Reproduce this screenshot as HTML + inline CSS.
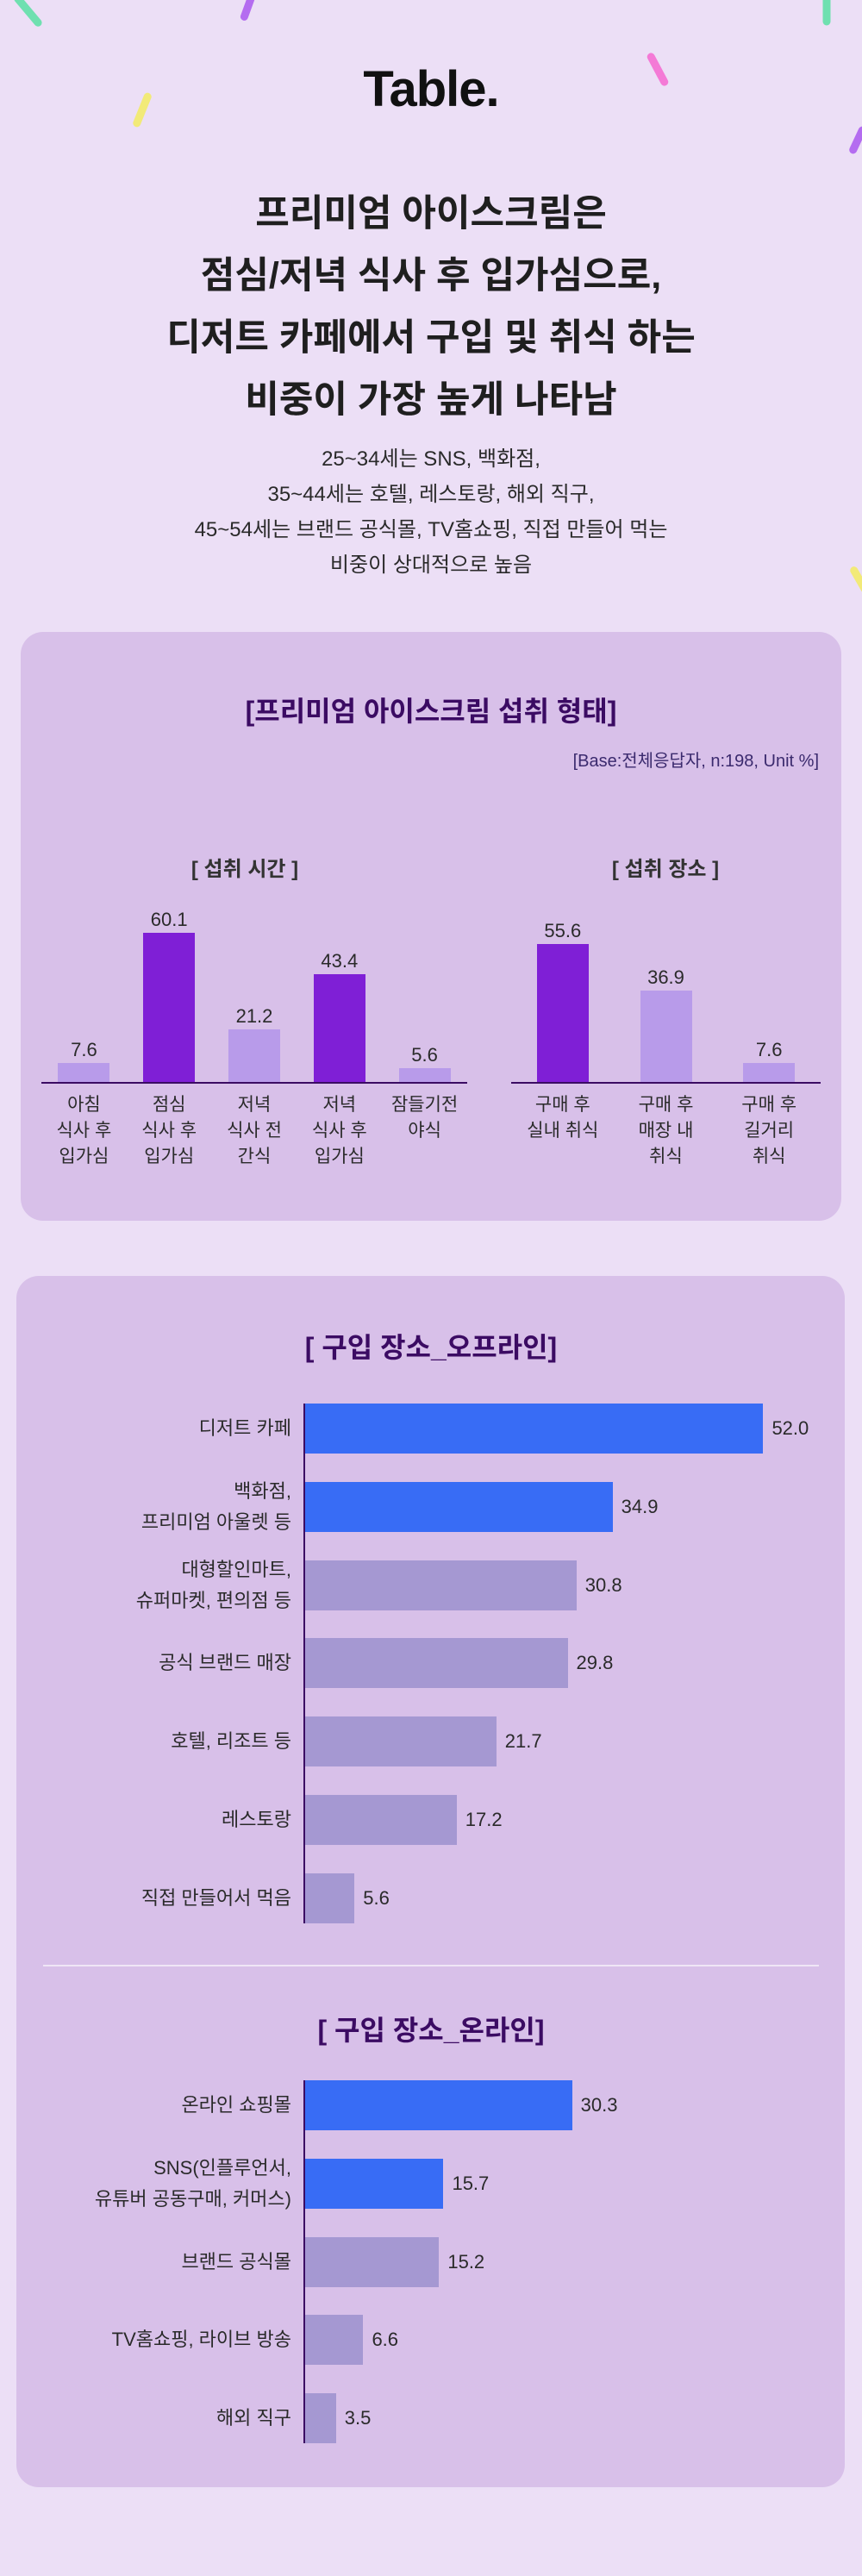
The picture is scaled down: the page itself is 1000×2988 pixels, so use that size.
<!DOCTYPE html>
<html><head><meta charset="utf-8">
<style>
*{margin:0;padding:0;box-sizing:border-box}
body{width:1000px;height:2988px;background:#ecdff6;position:relative;overflow:hidden;font-family:"Liberation Sans","Noto Sans CJK KR",sans-serif;color:#2a2a2a}
.abs{position:absolute}
.panel{position:absolute;background:#d8c0e9;border-radius:26px}
.ctr{position:absolute;left:0;width:1000px;text-align:center}
.spr{position:absolute;height:9px;border-radius:5px}
.lbl{position:absolute;font-size:21px;line-height:30px;text-align:center;color:#2a2a2a;white-space:nowrap}
.val{position:absolute;font-size:22px;color:#2a2a2a;white-space:nowrap}
.hl{position:absolute;font-size:22px;line-height:36px;text-align:right;color:#2a2a2a;white-space:nowrap}
</style></head><body>
<div class="spr" style="left:10px;top:8px;width:45px;background:#6fe0b0;transform:rotate(50deg)"></div>
<div class="spr" style="left:272px;top:5px;width:30px;background:#b46cf0;transform:rotate(-70deg)"></div>
<div class="spr" style="left:942px;top:8px;width:34px;background:#6fe0b0;transform:rotate(90deg)"></div>
<div class="spr" style="left:742px;top:76px;width:42px;background:#f47ad6;transform:rotate(62deg)"></div>
<div class="spr" style="left:144px;top:123px;width:42px;background:#f2ea78;transform:rotate(-68deg)"></div>
<div class="spr" style="left:978px;top:158px;width:34px;background:#b46cf0;transform:rotate(-65deg)"></div>
<div class="spr" style="left:980px;top:668px;width:34px;background:#f2ea78;transform:rotate(60deg)"></div>

<div class="ctr" style="top:70px;font-size:58px;font-weight:bold;color:#111;letter-spacing:-1px">Table.</div>
<div class="ctr" style="top:212px;font-size:43px;font-weight:bold;line-height:72px;color:#1f1f1f">프리미엄 아이스크림은<br>점심/저녁 식사 후 입가심으로,<br>디저트 카페에서 구입 및 취식 하는<br>비중이 가장 높게 나타남</div>
<div class="ctr" style="top:512px;font-size:24px;line-height:41px;color:#2a2a2a">25~34세는 SNS, 백화점,<br>35~44세는 호텔, 레스토랑, 해외 직구,<br>45~54세는 브랜드 공식몰, TV홈쇼핑, 직접 만들어 먹는<br>비중이 상대적으로 높음</div>

<div class="panel" style="left:24px;top:733px;width:952px;height:683px"></div>
<div class="ctr" style="top:800px;font-size:32px;font-weight:bold;color:#3b0b63">[프리미엄 아이스크림 섭취 형태]</div>
<div class="abs" style="right:50px;top:866px;font-size:20px;color:#3b2a6e">[Base:전체응답자, n:198, Unit %]</div>
<div class="abs" style="left:184px;width:200px;top:988px;text-align:center;font-size:24px;font-weight:bold;color:#333">[ 섭취 시간 ]</div>
<div class="abs" style="left:672px;width:200px;top:988px;text-align:center;font-size:24px;font-weight:bold;color:#333">[ 섭취 장소 ]</div>
<div id="vc"></div>

<div class="panel" style="left:19px;top:1480px;width:961px;height:1405px"></div>
<div class="ctr" style="top:1538px;font-size:32px;font-weight:bold;color:#3b0b63">[ 구입 장소_오프라인]</div>
<div class="abs" style="left:50px;top:2279px;width:900px;height:2px;background:#efe6f6"></div>
<div class="ctr" style="top:2330px;font-size:32px;font-weight:bold;color:#3b0b63">[ 구입 장소_온라인]</div>
<div id="hc"></div>

<script>
const timeCats=["아침<br>식사 후<br>입가심","점심<br>식사 후<br>입가심","저녁<br>식사 전<br>간식","저녁<br>식사 후<br>입가심","잠들기전<br>야식"];
const timeVals=[7.6,60.1,21.2,43.4,5.6];
const timeHi=[false,true,false,true,false];
const placeCats=["구매 후<br>실내 취식","구매 후<br>매장 내<br>취식","구매 후<br>길거리<br>취식"];
const placeVals=[55.6,36.9,7.6];
const placeHi=[true,false,false];
const offCats=["디저트 카페","백화점,<br>프리미엄 아울렛 등","대형할인마트,<br>슈퍼마켓, 편의점 등","공식 브랜드 매장","호텔, 리조트 등","레스토랑","직접 만들어서 먹음"];
const offVals=[52.0,34.9,30.8,29.8,21.7,17.2,5.6];
const offHi=[true,true,false,false,false,false,false];
const onCats=["온라인 쇼핑몰","SNS(인플루언서,<br>유튜버 공동구매, 커머스)","브랜드 공식몰","TV홈쇼핑, 라이브 방송","해외 직구"];
const onVals=[30.3,15.7,15.2,6.6,3.5];
const onHi=[true,true,false,false,false];

const vc=document.getElementById('vc'), hc=document.getElementById('hc');
const baseY=1255, vScale=2.88, bw=60;
function yV(v){return baseY-v*vScale;}
function vchart(cats,vals,hi,x0,x1,name){
  const ax=document.createElement('div');
  
  
  ax.className='abs';ax.style.cssText=`left:${x0}px;top:${baseY}px;width:${x1-x0}px;height:2px;background:#3b0b63`;
  vc.appendChild(ax);
  const step=(x1-x0)/cats.length;
  cats.forEach((c,i)=>{
    const cx=x0+step*(i+0.5), top=yV(vals[i]);
    const b=document.createElement('div');
    
    
    b.className='abs';b.style.cssText=`left:${cx-bw/2}px;top:${top}px;width:${bw}px;height:${baseY-top}px;background:${hi[i]?'#7f1fd6':'#b89bea'}`;
    vc.appendChild(b);
    const v=document.createElement('div');
    
    
    v.className='val';v.style.cssText=`left:${cx-40}px;width:80px;text-align:center;top:${top-28}px`;
    v.textContent=vals[i].toFixed(1);vc.appendChild(v);
    const l=document.createElement('div');
    
    
    l.className='lbl';l.style.cssText=`left:${cx-50}px;width:100px;top:1267px`;
    l.innerHTML=c;vc.appendChild(l);
  });
}
vchart(timeCats,timeVals,timeHi,48,542,'time');
vchart(placeCats,placeVals,placeHi,593,952,'place');

const axX=354, hScale=10.22, bh=58, gap=90.8;
function xH(v){return axX+v*hScale;}
function hchart(cats,vals,hi,top0,name){
  const ax=document.createElement('div');
  
  
  ax.className='abs';ax.style.cssText=`left:${axX-2}px;top:${top0}px;width:2px;height:${gap*(cats.length-1)+bh}px;background:#3b0b63`;
  hc.appendChild(ax);
  cats.forEach((c,i)=>{
    const t=top0+gap*i;
    const b=document.createElement('div');
    
    
    b.className='abs';b.style.cssText=`left:${axX}px;top:${t}px;width:${xH(vals[i])-axX}px;height:${bh}px;background:${hi[i]?'#386cf5':'#a598d2'}`;
    hc.appendChild(b);
    const v=document.createElement('div');
    
    
    v.className='val';v.style.cssText=`left:${xH(vals[i])+10}px;top:${t+bh/2-13}px`;
    v.textContent=vals[i].toFixed(1);hc.appendChild(v);
    const l=document.createElement('div');
    
    
    const lines=c.split('<br>').length;
    l.className='hl';l.style.cssText=`right:${1000-338}px;top:${t+bh/2-lines*18}px`;
    l.innerHTML=c;hc.appendChild(l);
  });
}
hchart(offCats,offVals,offHi,1628,'offline');
hchart(onCats,onVals,onHi,2413,'online');
</script>
</body></html>
